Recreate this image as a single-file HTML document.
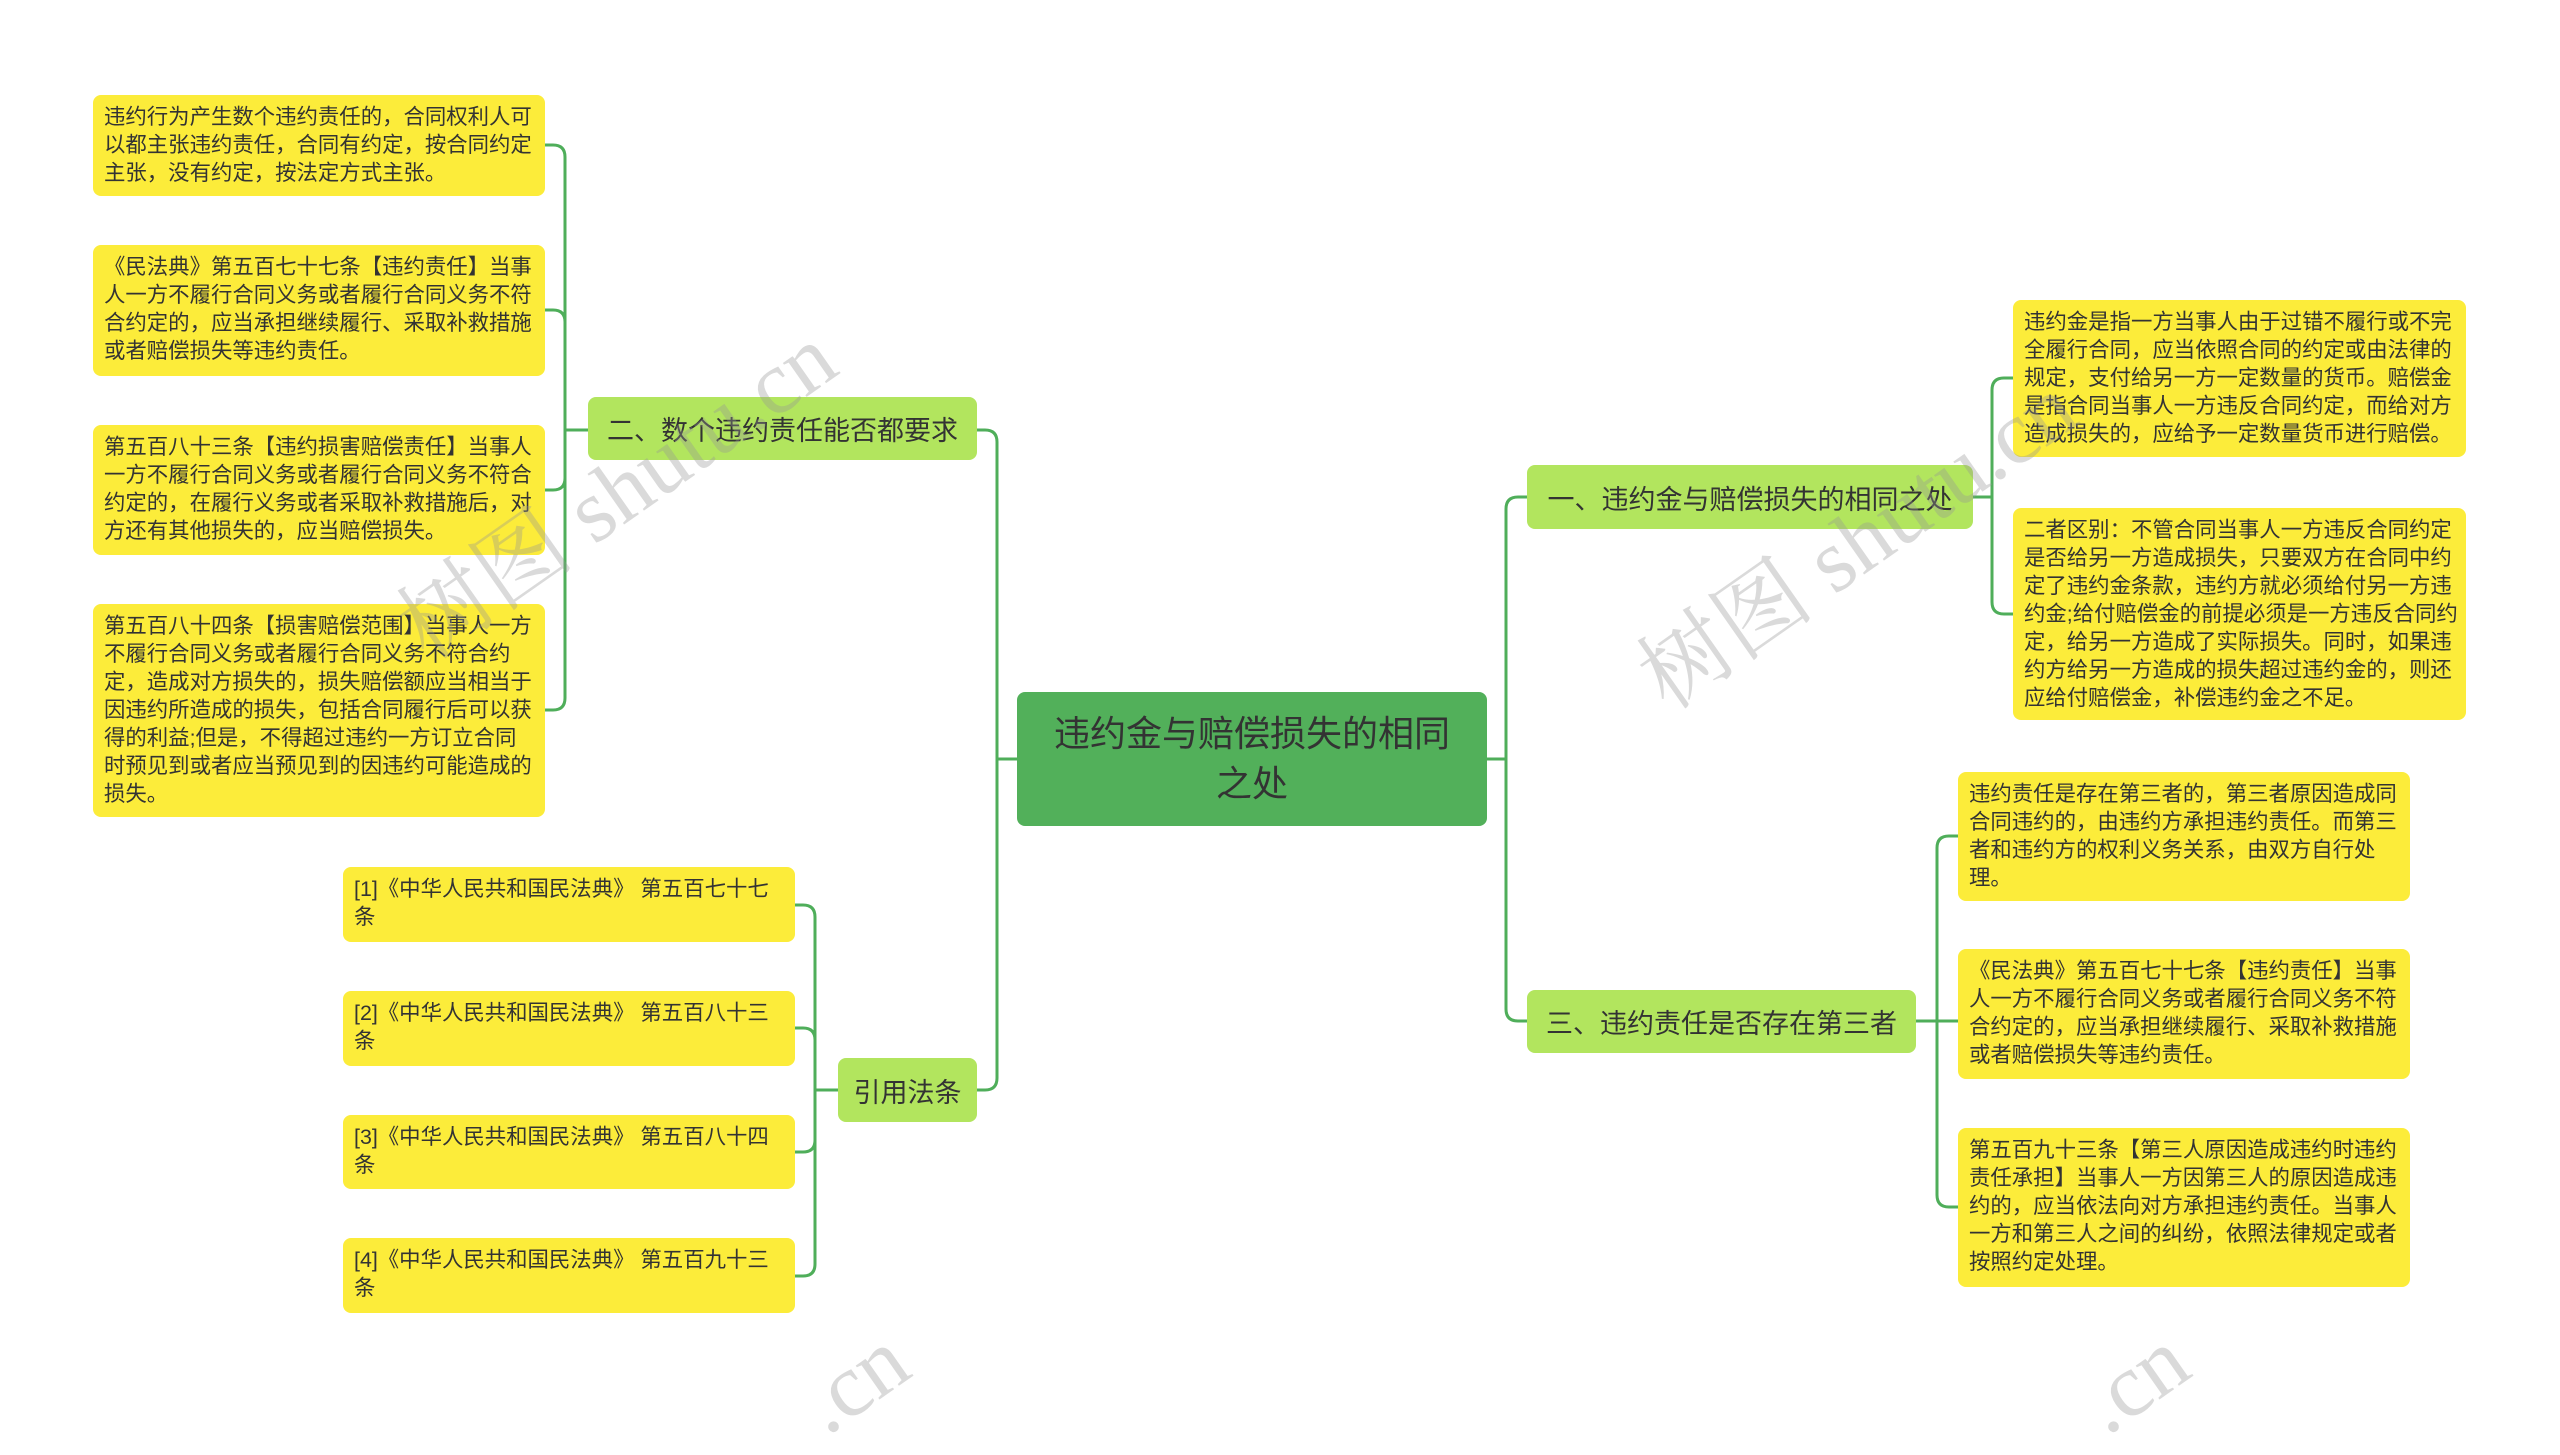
<!DOCTYPE html>
<html><head><meta charset="utf-8"><style>
body{margin:0;width:2560px;height:1407px;background:#fff;position:relative;overflow:hidden;font-family:"Liberation Sans","Noto Sans CJK SC",sans-serif;color:#333}
.n{position:absolute;box-sizing:border-box;border-radius:8px}
.y{background:#fcec3a;font-size:21.4px;line-height:28px;padding:8px 8px 0 11px;word-break:break-all}
.b{background:#b2e55e;font-size:27px;display:flex;align-items:center;justify-content:center;white-space:nowrap}
.r{background:#52b05a;font-size:36px;line-height:50px;display:flex;align-items:center;justify-content:center;text-align:center;padding:0 20px}
.w{position:absolute;color:rgba(150,150,150,0.35);font-size:90px;font-family:"Liberation Serif","Noto Serif CJK SC",serif;transform:rotate(-35deg);white-space:nowrap;pointer-events:none}
</style></head><body>
<svg width="2560" height="1407" style="position:absolute;left:0;top:0" fill="none" stroke="#4fae5a" stroke-width="3">
<path d="M1017 759 H997 V442 q0 -12 -12 -12 H977"/>
<path d="M997 759 V1078 q0 12 -12 12 H977"/>
<path d="M1487 759 H1506 V509 q0 -12 12 -12 H1527"/>
<path d="M1506 759 V1009 q0 12 12 12 H1527"/>
<path d="M588 430 H565 V157 q0 -12 -12 -12 H545"/>
<path d="M565 430 V322 q0 -12 -12 -12 H545"/>
<path d="M565 430 V478 q0 12 -12 12 H545"/>
<path d="M565 430 V698 q0 12 -12 12 H545"/>
<path d="M838 1090 H815 V917 q0 -12 -12 -12 H795"/>
<path d="M815 1090 V1040 q0 -12 -12 -12 H795"/>
<path d="M815 1090 V1140 q0 12 -12 12 H795"/>
<path d="M815 1090 V1264 q0 12 -12 12 H795"/>
<path d="M1973 497 H1992 V390 q0 -12 12 -12 H2013"/>
<path d="M1992 497 V602 q0 12 12 12 H2013"/>
<path d="M1937 1021 V848 q0 -12 12 -12 H1958"/>
<path d="M1916 1021 H1958"/>
<path d="M1937 1021 V1195 q0 12 12 12 H1958"/>
</svg>

<div class="n r" style="left:1017px;top:692px;width:470px;height:134px">违约金与赔偿损失的相同之处</div>

<div class="n b" style="left:588px;top:397px;width:389px;height:63px">二、数个违约责任能否都要求</div>
<div class="n b" style="left:838px;top:1058px;width:139px;height:64px">引用法条</div>
<div class="n b" style="left:1527px;top:465px;width:446px;height:64px">一、违约金与赔偿损失的相同之处</div>
<div class="n b" style="left:1527px;top:990px;width:389px;height:63px">三、违约责任是否存在第三者</div>

<div class="n y" style="left:93px;top:95px;width:452px;height:101px">违约行为产生数个违约责任的，合同权利人可以都主张违约责任，合同有约定，按合同约定主张，没有约定，按法定方式主张。</div>
<div class="n y" style="left:93px;top:245px;width:452px;height:131px">《民法典》第五百七十七条【违约责任】当事人一方不履行合同义务或者履行合同义务不符合约定的，应当承担继续履行、采取补救措施或者赔偿损失等违约责任。</div>
<div class="n y" style="left:93px;top:425px;width:452px;height:130px">第五百八十三条【违约损害赔偿责任】当事人一方不履行合同义务或者履行合同义务不符合约定的，在履行义务或者采取补救措施后，对方还有其他损失的，应当赔偿损失。</div>
<div class="n y" style="left:93px;top:604px;width:452px;height:213px">第五百八十四条【损害赔偿范围】当事人一方不履行合同义务或者履行合同义务不符合约定，造成对方损失的，损失赔偿额应当相当于因违约所造成的损失，包括合同履行后可以获得的利益;但是，不得超过违约一方订立合同时预见到或者应当预见到的因违约可能造成的损失。</div>

<div class="n y" style="left:343px;top:867px;width:452px;height:75px">[1]《中华人民共和国民法典》 第五百七十七条</div>
<div class="n y" style="left:343px;top:991px;width:452px;height:75px">[2]《中华人民共和国民法典》 第五百八十三条</div>
<div class="n y" style="left:343px;top:1115px;width:452px;height:74px">[3]《中华人民共和国民法典》 第五百八十四条</div>
<div class="n y" style="left:343px;top:1238px;width:452px;height:75px">[4]《中华人民共和国民法典》 第五百九十三条</div>

<div class="n y" style="left:2013px;top:300px;width:453px;height:157px">违约金是指一方当事人由于过错不履行或不完全履行合同，应当依照合同的约定或由法律的规定，支付给另一方一定数量的货币。赔偿金是指合同当事人一方违反合同约定，而给对方造成损失的，应给予一定数量货币进行赔偿。</div>
<div class="n y" style="left:2013px;top:508px;width:453px;height:212px">二者区别：不管合同当事人一方违反合同约定是否给另一方造成损失，只要双方在合同中约定了违约金条款，违约方就必须给付另一方违约金;给付赔偿金的前提必须是一方违反合同约定，给另一方造成了实际损失。同时，如果违约方给另一方造成的损失超过违约金的，则还应给付赔偿金，补偿违约金之不足。</div>
<div class="n y" style="left:1958px;top:772px;width:452px;height:129px">违约责任是存在第三者的，第三者原因造成同合同违约的，由违约方承担违约责任。而第三者和违约方的权利义务关系，由双方自行处理。</div>
<div class="n y" style="left:1958px;top:949px;width:452px;height:130px">《民法典》第五百七十七条【违约责任】当事人一方不履行合同义务或者履行合同义务不符合约定的，应当承担继续履行、采取补救措施或者赔偿损失等违约责任。</div>
<div class="n y" style="left:1958px;top:1128px;width:452px;height:159px">第五百九十三条【第三人原因造成违约时违约责任承担】当事人一方因第三人的原因造成违约的，应当依法向对方承担违约责任。当事人一方和第三人之间的纠纷，依照法律规定或者按照约定处理。</div>

<div class="w" style="left:360px;top:420px">树图 shutu.cn</div>
<div class="w" style="left:1600px;top:470px">树图 shutu.cn</div>
<div class="w" style="left:800px;top:1330px">.cn</div>
<div class="w" style="left:2080px;top:1330px">.cn</div>
</body></html>
